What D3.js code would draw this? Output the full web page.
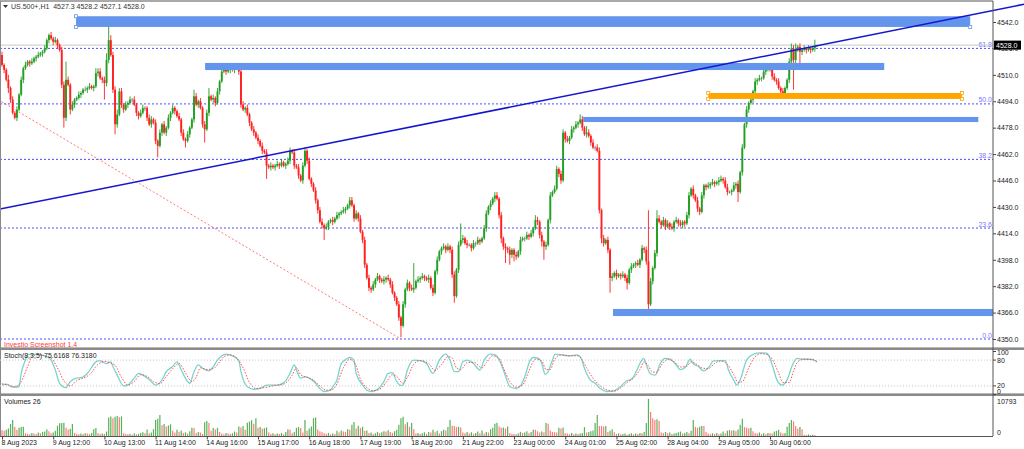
<!DOCTYPE html>
<html>
<head>
<meta charset="utf-8">
<title>US.500+ H1</title>
<script src="https://d3js.org/d3.v7.min.js"></script>
<style>
  body { margin: 0; background: #fff; }
  text { font-family: "Liberation Sans", Arial, sans-serif; font-size: 7px; fill: #222; }
</style>
</head>
<body>
<script>
// hourly bars, 8 Aug 2023 11:00 -> 31 Aug 2023; each bar opens where the previous one closed
var firstOpen = 4522;
var closes = [
  4516,4513,4507,4502,4495,4487,4484,4489,4498,4507,
  4514,4516,4518,4517,4518,4520,4521,4522,4523,4524,
  4526,4531,4534,4532,4530,4531,4528,4525,4504,4484,
  4507,4504,4489,4492,4495,4496,4498,4499,4501,4501,
  4502,4503,4502,4503,4511,4512,4508,4507,4505,4519,
  4531,4522,4501,4480,4486,4500,4492,4489,4492,4493,
  4495,4495,4492,4487,4485,4487,4490,4490,4484,4480,
  4483,4481,4470,4467,4475,4480,4475,4478,4484,4487,
  4490,4488,4485,4483,4475,4471,4470,4474,4478,4483,
  4497,4492,4494,4490,4480,4477,4487,4497,4495,4496,
  4493,4500,4506,4512,4513,4512,4513,4514,4513,4515,
  4514,4512,4492,4489,4490,4486,4481,4477,4475,4472,
  4470,4467,4464,4463,4455,4454,4455,4454,4455,4456,
  4455,4457,4455,4456,4458,4464,4463,4455,4454,4449,
  4446,4455,4464,4458,4447,4444,4440,4434,4428,4421,
  4419,4417,4418,4421,4422,4421,4423,4425,4426,4427,
  4428,4429,4431,4434,4431,4423,4426,4423,4415,4410,
  4395,4387,4381,4380,4383,4386,4388,4386,4385,4386,
  4387,4386,4383,4378,4375,4371,4363,4358,4371,4380,
  4384,4381,4380,4381,4385,4386,4387,4388,4387,4386,
  4387,4381,4378,4391,4398,4403,4405,4406,4404,4406,
  4404,4389,4376,4392,4407,4410,4411,4408,4407,4407,
  4405,4408,4408,4410,4409,4411,4417,4426,4430,4432,
  4435,4437,4435,4425,4411,4406,4405,4404,4401,4404,
  4401,4400,4403,4410,4411,4411,4413,4412,4414,4417,
  4422,4421,4413,4409,4406,4407,4422,4437,4439,4441,
  4453,4450,4446,4475,4471,4470,4472,4477,4478,4480,
  4481,4483,4478,4474,4475,4473,4469,4466,4466,4464,
  4428,4411,4408,4410,4404,4387,4388,4390,4388,4389,
  4388,4389,4387,4384,4392,4394,4395,4396,4395,4398,
  4405,4404,4397,4371,4385,4393,4402,4423,4421,4419,
  4422,4418,4420,4418,4417,4421,4422,4420,4419,4421,
  4420,4425,4437,4441,4437,4434,4429,4427,4437,4443,
  4442,4443,4444,4445,4444,4445,4446,4447,4446,4442,
  4439,4439,4440,4443,4444,4439,4451,4466,4480,4489,
  4493,4495,4500,4506,4507,4508,4508,4512,4513,4514,
  4513,4509,4507,4506,4502,4500,4498,4502,4507,4518,
  4526,4519,4525,4527,4524,4525,4526,4525,4526,4525,
  4526,4527.3,4528.0
];
// wick lengths above / below the body, in index points
var wickUp = [
  2,1,1,3,1,2,1,2,1,2, 1,2,1,1,2,1,1,2,1,1, 2,1,1,2,1,2,1,1,2,2, 11,2,1,2,1,1,2,1,1,2,
  1,2,1,1,3,2,2,1,2,4, 14,3,2,2,3,2,2,1,2,1, 2,1,2,1,1,2,2,1,1,2, 2,1,2,1,2,1,2,1,2,1,
  2,1,1,2,1,2,1,2,1,1, 4,2,1,2,1,2,2,5,1,2, 1,2,1,1,2,1,2,3,2,1, 2,1,3,2,1,2,1,1,2,1,
  2,1,2,1,2,1,2,1,1,2, 1,2,1,1,2,2,1,2,1,2, 1,2,2,1,2,1,1,2,1,2, 2,1,2,1,1,2,1,2,1,1,
  2,1,1,2,2,1,2,1,2,1, 2,1,2,1,2,1,2,1,1,2, 1,2,1,2,1,1,2,1,2,1, 2,1,2,15,1,2,1,2,1,1,
  2,1,2,1,2,1,1,2,1,2, 1,2,2,1,2,10,2,1,2,1, 1,2,1,2,1,1,2,2,1,2, 1,2,2,1,2,1,2,1,2,1,
  1,2,1,2,1,1,2,1,2,1, 3,2,1,2,1,2,1,2,1,2, 2,1,2,2,1,2,1,2,1,2, 1,3,2,1,4,2,1,2,1,2,
  2,1,2,1,2,1,2,1,2,1, 1,2,1,2,1,2,1,1,2,1, 2,1,2,31,2,1,2,5,2,1, 2,1,2,1,2,1,2,1,2,1,
  1,2,2,1,2,1,2,1,2,1, 1,2,1,2,1,1,2,2,1,2, 2,1,1,2,1,2,1,2,1,2, 1,2,1,2,1,2,1,1,2,1,
  2,1,2,1,2,1,2,1,1,2, 3,2,4,1,2,1,2,1,2,1, 1,4,0.2
];
var wickDn = [
  1,2,1,3,2,1,1,2,1,1, 2,1,1,2,1,1,2,1,1,2, 1,1,2,1,2,1,2,1,2,6, 2,1,3,1,2,1,1,2,1,1,
  2,1,1,2,1,2,1,2,10,2, 2,1,2,6,2,1,2,2,1,2, 1,2,1,2,2,1,1,2,2,1, 2,1,2,7,1,2,1,2,1,2,
  1,2,1,1,2,1,4,1,2,1, 2,1,2,1,2,8,1,2,1,2, 2,1,2,1,1,2,1,2,1,2, 1,2,2,1,2,1,2,1,2,1,
  2,1,2,1,8,1,2,1,2,1, 2,1,1,2,1,2,1,2,1,2, 1,2,1,2,1,2,1,2,2,1, 2,7,1,2,1,2,1,1,2,1,
  1,2,1,2,1,2,1,2,1,2, 2,1,2,2,1,2,1,2,1,2, 2,1,2,1,2,1,2,7,1,2, 1,2,1,2,1,1,2,1,2,1,
  2,1,2,1,2,1,2,1,2,1, 2,2,4,1,2,1,2,1,2,1, 2,1,2,1,2,1,1,2,1,2, 1,2,1,2,3,2,9,2,6,2,
  4,2,1,2,1,2,1,2,1,2, 1,2,2,3,8,2,1,2,1,1, 1,2,2,1,2,1,2,1,2,1, 2,1,2,1,2,1,2,1,2,1,
  2,3,2,1,2,9,2,1,2,1, 2,1,2,4,1,2,1,2,1,2, 1,2,2,5,1,2,1,2,1,2, 1,2,1,2,1,2,1,2,1,2,
  2,1,2,1,2,1,2,2,1,2, 2,1,2,1,2,1,2,1,2,1, 2,1,2,1,2,6,1,2,1,2, 2,1,2,1,2,1,2,1,2,1,
  1,2,1,2,1,2,1,2,1,2, 1,18,2,1,9,2,1,2,1,2, 1,2,0.2
];
var volumes = [
  1700,1500,1800,2200,3500,4700,2600,1800,2400,2600, 2700,800,600,500,900,700,600,1000,800,1200,
  1300,2000,1400,800,1000,1500,3000,3700,3800,3900, 2400,1900,2100,3500,900,600,500,700,600,800,
  700,600,900,2000,2300,900,600,700,600,1300, 5400,5700,5200,5600,5800,5500,5700,800,600,500,
  600,400,800,500,600,900,1100,800,1900,800, 1000,2000,4700,5000,6100,3100,3500,2800,3100,3400,
  1500,1000,1800,1200,1600,900,1100,700,1400,2400, 2300,900,1200,1000,600,4000,4400,3800,1500,2300,
  1900,2400,1200,700,500,900,700,600,800,1300, 1000,2800,2500,2900,1800,3900,4200,4600,3600,5200,
  2400,2600,2100,2300,2500,1000,600,800,500,700, 600,900,500,1200,2000,1800,800,1200,2400,2600,
  2300,1000,4700,1500,2200,2800,5200,5400,1900,1400, 1100,800,600,900,500,700,600,1500,1000,1600,
  1300,1200,2000,1800,3300,4100,2200,3000,2300,2700, 1500,1600,900,1000,600,800,1200,900,1100,1400,
  1300,1700,1200,900,1400,1800,3300,5200,5600,3400, 4000,2700,3800,2000,700,900,600,800,1100,600,
  1200,1000,1800,1100,1500,700,1400,1800,1600,2600, 4700,3000,2900,2600,2700,2500,1000,800,1200,700,
  1100,600,900,1300,800,1600,700,1200,1000,2000, 2400,3600,3900,2800,2400,2500,2200,2800,900,600,
  600,500,700,1200,900,1000,1400,800,1200,1800, 1800,1400,1000,1300,1100,3800,3600,1600,1200,1100,
  1000,2400,2200,2500,800,700,600,900,500,700, 600,700,900,2600,1000,1200,1400,1600,3800,6100,
  2900,2900,2800,2900,1200,1500,2000,1100,600,800, 500,600,700,400,600,800,500,700,600,900,
  800,1200,3800,10793,7000,5200,4700,4900,4400,1000, 900,1200,800,1000,600,700,900,1100,1300,700,
  900,1200,800,1500,4700,2600,2400,2700,2900,2900, 1200,700,500,800,600,900,500,700,1300,800,
  1500,1700,1600,1700,1400,1900,3300,5000,2600,2400, 2200,2400,1400,900,700,1000,600,800,500,900,
  800,700,1300,1500,1800,1000,700,900,2700,3800, 4700,4300,2900,2200,2600,2000,400,300,500,300,
  400,300,26
];
// Stoch(8,3,5) main and signal, read as [bar, value]
var stochK = [
  [0,22],[2,24],[5,17],[8,18],[9,49],[11,80],[12,92],[15,94],[18,92],[21,88],[23,80],[25,57],[27,26],[30,16],
  [32,30],[35,38],[37,39],[40,49],[44,76],[46,79],[47,76],[49,72],[51,76],[52,65],[54,45],[57,20],[59,22],
  [62,38],[64,49],[66,45],[69,35],[72,22],[75,34],[77,53],[80,65],[82,76],[84,57],[87,30],[88,26],[90,53],
  [92,69],[94,61],[97,55],[99,65],[101,80],[103,90],[105,94],[108,90],[111,79],[112,53],[115,18],[118,12],
  [121,14],[124,22],[129,22],[132,27],[135,49],[137,69],[138,57],[140,38],[142,41],[144,38],[147,26],[149,14],
  [151,7],[154,10],[155,18],[157,34],[159,72],[162,84],[163,86],[165,80],[166,49],[169,22],[171,10],[173,7],
  [176,12],[179,30],[181,49],[183,51],[185,30],[187,21],[188,22],[190,57],[193,80],[196,79],[199,72],[202,49],
  [205,80],[208,94],[210,80],[212,53],[214,53],[216,76],[218,80],[221,72],[224,57],[226,80],[229,94],[231,92],
  [233.5,76],[235,57],[236.6,34],[238,18],[241,14],[243,20],[245,41],[247.6,80],[249,86],[251.5,84],[253,72],
  [254.6,47],[256,53],[257.7,76],[259.3,94],[262.4,92],[266.3,90],[269.4,92],[271,88],[273.3,57],[275.7,34],
  [278,26],[280.4,14],[283.5,7],[286.6,8],[289.8,18],[292.9,32],[294.4,34],[296,41],[297.6,57],[299,72],
  [300.7,84],[302.3,65],[303.8,49],[306.2,45],[308.5,72],[310.8,84],[313.2,82],[315.5,72],[317.9,58],[320.2,63],
  [322.6,82],[324,72],[326.5,65],[328.8,55],[331.2,63],[333.5,78],[336.6,79],[339,79],[340.5,57],[342.9,34],
  [344.4,22],[346,34],[349,80],[352.3,94],[355.4,97],[358.5,96],[360.8,72],[363.2,34],[365.5,22],[368,34],
  [370.2,65],[372.6,84],[375.7,82],[378.8,82],[381,79],[382,75.6168]
];
var stochD = [
  [0,25],[3,22],[6,18],[9,30],[12,65],[14,88],[17,93],[20,90],[23,85],[26,62],[29,32],[32,20],[35,32],[38,38],
  [41,46],[45,70],[48,77],[51,73],[53,68],[56,40],[59,22],[62,30],[65,46],[68,42],[71,30],[74,25],[77,42],
  [80,60],[83,72],[86,50],[89,30],[91,40],[93,62],[96,58],[99,60],[102,76],[104,88],[107,92],[110,85],[113,62],
  [116,28],[119,14],[123,16],[128,21],[132,24],[136,45],[138,62],[140,46],[143,40],[146,33],[149,20],[152,10],
  [155,12],[157,25],[160,62],[163,82],[166,66],[168,36],[171,16],[174,9],[177,12],[180,28],[183,46],[185,42],
  [188,26],[190,40],[193,70],[196,79],[200,72],[203,56],[206,70],[209,88],[211,85],[213,62],[215,58],[218,74],
  [221,75],[225,62],[227,74],[230,90],[233,84],[235,62],[238,30],[241,17],[244,22],[247,55],[250,82],[253,78],
  [255,58],[257,58],[259,82],[262,92],[266,90],[270,90],[272,80],[274,62],[277,38],[280,22],[284,10],[287,8],
  [290,15],[293,28],[296,38],[299,58],[301,76],[303,66],[305,52],[307,52],[309,68],[312,82],[315,76],[318,64],
  [321,66],[323,76],[325,72],[328,62],[331,60],[334,72],[337,78],[340,70],[343,46],[345,28],[347,30],[350,62],
  [353,88],[356,95],[359,92],[361,82],[364,50],[366,28],[369,28],[371,55],[373,76],[376,82],[380,81],[382,76.318]
];
var priceTicks = [4350,4366,4382,4398,4414,4430,4446,4462,4478,4494,4510,4526,4542];
var labelBars = [0,24,48,72,96,120,144,168,192,216,240,264,288,312,336,360];
var timeLabels = ["8 Aug 2023","9 Aug 12:00","10 Aug 13:00","11 Aug 14:00","14 Aug 16:00","15 Aug 17:00",
  "16 Aug 18:00","17 Aug 19:00","18 Aug 20:00","21 Aug 22:00","23 Aug 00:00","24 Aug 01:00",
  "25 Aug 02:00","28 Aug 04:00","29 Aug 05:00","30 Aug 06:00"];
var fibLevels = [0, 23.6, 38.2, 50.0, 61.8];
var fibRange = [4350, 4634.8];
var fibDiagonal = [[-184, 4634.8], [187, 4350]];
var trendLine = [[0, 4428.9], [400, 4532.3]];
// [first bar, last bar, top price, bottom price]
var blueZones = [[34.7, 453.8, 4545.5, 4539.0], [95.2, 413.5, 4517.2, 4512.9],
                 [272.4, 457.6, 4484.5, 4481.4], [286.4, 464.5, 4368.2, 4363.9]];
var orangeZone = [331, 450, 4499.0, 4495.4];
var lastPrice = 4528.0;

var W = 1024, H = 449, axisX = 993;
var svg = d3.select("body").append("svg").attr("width", W).attr("height", H);
svg.append("rect").attr("width", W).attr("height", H).attr("fill", "#fff");

var x = d3.scaleLinear().domain([0, 382]).range([2, 817]);
var y = d3.scaleLinear().domain([4350, 4542]).range([339, 22]);
var yS = d3.scaleLinear().domain([0, 100]).range([394.5, 351.5]);
var yV = d3.scaleLinear().domain([0, 10793]).range([436, 399]);

svg.append("clipPath").attr("id", "mainClip").append("rect").attr("x", 0).attr("y", 2).attr("width", W).attr("height", 344);
svg.append("clipPath").attr("id", "plotClip").append("rect").attr("x", 0).attr("y", 2).attr("width", axisX).attr("height", 344);
var main = svg.append("g").attr("clip-path", "url(#plotClip)");

// fibo levels
var fibPrice = function(l){ return fibRange[0] + (fibRange[1] - fibRange[0]) * l / 100; };
main.selectAll(".fib").data(fibLevels).enter().append("line")
  .attr("x1", 0).attr("x2", axisX)
  .attr("y1", function(d){ return y(fibPrice(d)); }).attr("y2", function(d){ return y(fibPrice(d)); })
  .attr("stroke", "#3a3aff").attr("stroke-dasharray", "2,2").attr("stroke-width", 0.9);
main.selectAll(".fibt").data(fibLevels).enter().append("text")
  .attr("x", axisX - 1).attr("y", function(d){ return y(fibPrice(d)) - 1.5; })
  .attr("text-anchor", "end").style("fill", "#7a7aff").text(function(d){ return d.toFixed(1); });

// bid line
main.append("line").attr("x1", 0).attr("x2", axisX).attr("y1", y(lastPrice)).attr("y2", y(lastPrice))
  .attr("stroke", "#c8c8c8").attr("stroke-width", 1);

// fibo diagonal
main.append("line")
  .attr("x1", x(fibDiagonal[0][0])).attr("y1", y(fibDiagonal[0][1]))
  .attr("x2", x(fibDiagonal[1][0])).attr("y2", y(fibDiagonal[1][1]))
  .attr("stroke", "#ff6a6a").attr("stroke-dasharray", "2,2").attr("stroke-width", 0.9);

// zones
var zoneG = svg.append("g").attr("clip-path", "url(#mainClip)");
zoneG.selectAll(".zone").data(blueZones).enter().append("rect")
  .attr("x", function(d){ return x(d[0]); }).attr("width", function(d){ return x(d[1]) - x(d[0]); })
  .attr("y", function(d){ return y(d[2]); }).attr("height", function(d){ return y(d[3]) - y(d[2]); })
  .attr("fill", "#6495ed");
zoneG.append("rect")
  .attr("x", x(orangeZone[0])).attr("width", x(orangeZone[1]) - x(orangeZone[0]))
  .attr("y", y(orangeZone[2])).attr("height", y(orangeZone[3]) - y(orangeZone[2]))
  .attr("fill", "#ffa500");
var handles = [[blueZones[0][0], blueZones[0][2], "#6495ed"], [blueZones[0][0], blueZones[0][3], "#6495ed"],
               [blueZones[0][1], blueZones[0][3], "#6495ed"],
               [orangeZone[0], orangeZone[2], "#ffa500"], [orangeZone[0], orangeZone[3], "#ffa500"],
               [orangeZone[1], orangeZone[2], "#ffa500"], [orangeZone[1], orangeZone[3], "#ffa500"]];
zoneG.selectAll(".hd").data(handles).enter().append("rect")
  .attr("x", function(d){ return x(d[0]) - 1.5; }).attr("y", function(d){ return y(d[1]) - 1.5; })
  .attr("width", 3).attr("height", 3).attr("fill", "#fff").attr("stroke", function(d){ return d[2]; }).attr("stroke-width", 0.8);

// candles
var bars = closes.map(function(c, i){
  var o = i ? closes[i - 1] : firstOpen;
  return { i: i, o: o, c: c, h: Math.max(o, c) + wickUp[i], l: Math.min(o, c) - wickDn[i] };
});
var col = function(d){ return d.c > d.o ? "#229e22" : (d.c < d.o ? "#ff2020" : "#808080"); };
var cg = main.append("g");
cg.selectAll(".wick").data(bars).enter().append("line")
  .attr("x1", function(d){ return x(d.i); }).attr("x2", function(d){ return x(d.i); })
  .attr("y1", function(d){ return y(d.h); }).attr("y2", function(d){ return y(d.l); })
  .attr("stroke", col).attr("stroke-width", 0.9);
cg.selectAll(".body").data(bars).enter().append("rect")
  .attr("x", function(d){ return x(d.i) - 0.95; }).attr("width", 1.9)
  .attr("y", function(d){ return y(Math.max(d.o, d.c)); })
  .attr("height", function(d){ return Math.max(0.8, Math.abs(y(d.o) - y(d.c))); })
  .attr("fill", col);

// trend line, extended over the whole width
var slope = (trendLine[1][1] - trendLine[0][1]) / (trendLine[1][0] - trendLine[0][0]);
var tb0 = x.invert(0), tb1 = x.invert(W);
svg.append("line").attr("clip-path", "url(#mainClip)")
  .attr("x1", 0).attr("y1", y(trendLine[0][1] + slope * (tb0 - trendLine[0][0])))
  .attr("x2", W).attr("y2", y(trendLine[0][1] + slope * (tb1 - trendLine[0][0])))
  .attr("stroke", "#1414d2").attr("stroke-width", 1.5);

// price axis
var pAxis = svg.append("g").attr("transform", "translate(" + axisX + ",0)")
  .call(d3.axisRight(y).tickValues(priceTicks).tickFormat(d3.format(".1f")).tickSize(3).tickPadding(1));
pAxis.select(".domain").remove();
pAxis.selectAll("line").attr("stroke", "#444");
pAxis.selectAll("text").style("font-size", "7px").style("fill", "#222").attr("font-family", null);
var lp = svg.append("g");
lp.append("rect").attr("x", axisX + 1).attr("y", y(lastPrice) - 4.5).attr("width", 27).attr("height", 9).attr("fill", "#000");
lp.append("text").attr("x", axisX + 3).attr("y", y(lastPrice) + 2.5).style("fill", "#fff").text(lastPrice.toFixed(1));

// header
svg.append("path").attr("d", "M3,5 L8,5 L5.5,8 Z").attr("fill", "#333");
svg.append("text").attr("x", 11).attr("y", 9).style("white-space", "pre").style("fill", "#333")
  .text("US.500+,H1  " + [closes[381], bars[382].h, bars[382].l, closes[382]].map(function(v){ return v.toFixed(1); }).join(" "));
svg.append("text").attr("x", 4).attr("y", 346.5).style("fill", "#ff3b3b").text("Investio Screenshot 1.4");

// panel separators and frame
[347, 393].forEach(function(sy){
  svg.append("rect").attr("x", 0).attr("y", sy).attr("width", W).attr("height", 3).attr("fill", "#8a8a8a");
  svg.append("line").attr("x1", 0).attr("x2", W).attr("y1", sy + 0.5).attr("y2", sy + 0.5).attr("stroke", "#b8b8b8");
});
svg.append("line").attr("x1", 0).attr("x2", axisX).attr("y1", 1).attr("y2", 1).attr("stroke", "#555");
svg.append("line").attr("x1", 0.5).attr("x2", 0.5).attr("y1", 1).attr("y2", 436).attr("stroke", "#888");
svg.append("line").attr("x1", axisX).attr("x2", axisX).attr("y1", 1).attr("y2", 436).attr("stroke", "#555");
svg.append("line").attr("x1", 0).attr("x2", axisX).attr("y1", 436.5).attr("y2", 436.5).attr("stroke", "#555");

// stochastic panel
svg.selectAll(".lvl").data([80, 20]).enter().append("line")
  .attr("x1", 0).attr("x2", axisX).attr("y1", function(d){ return yS(d); }).attr("y2", function(d){ return yS(d); })
  .attr("stroke", "#c8c8c8").attr("stroke-dasharray", "1,2");
var sLine = d3.line().x(function(d){ return x(d[0]); }).y(function(d){ return yS(d[1]); }).curve(d3.curveMonotoneX);
svg.append("path").attr("d", sLine(stochK)).attr("fill", "none").attr("stroke", "#78d4d0").attr("stroke-width", 1.3);
svg.append("path").attr("d", sLine(stochD)).attr("fill", "none").attr("stroke", "#ff3c3c").attr("stroke-width", 0.9).attr("stroke-dasharray", "1.5,1.5");
svg.append("text").attr("x", 4).attr("y", 358).text("Stoch(8,3,5) " + stochK[stochK.length - 1][1].toFixed(4) + " " + stochD[stochD.length - 1][1].toFixed(4));
var sTicks = [100, 80, 20, 0], sNudge = [3.5, 2.5, 2.5, -1];
svg.selectAll(".st").data(sTicks).enter().append("text")
  .attr("x", axisX + 4).attr("y", function(d, i){ return yS(d) + sNudge[i]; }).text(function(d){ return d; });
svg.selectAll(".stt").data(sTicks).enter().append("line")
  .attr("x1", axisX).attr("x2", axisX + 3).attr("y1", function(d){ return yS(d); }).attr("y2", function(d){ return yS(d); }).attr("stroke", "#444");

// volumes panel
svg.append("text").attr("x", 4).attr("y", 404).text("Volumes " + volumes[volumes.length - 1]);
svg.append("g").selectAll("line").data(volumes).enter().append("line")
  .attr("x1", function(d, i){ return x(i); }).attr("x2", function(d, i){ return x(i); })
  .attr("y1", yV(0)).attr("y2", function(d){ return yV(d); })
  .attr("stroke", function(d, i){ return i > 0 && d > volumes[i - 1] ? "#2e9e2e" : "#ff5a5a"; })
  .attr("stroke-width", 1.2).attr("opacity", 0.8);
svg.append("text").attr("x", axisX + 4).attr("y", yV(10793) + 4.5).text("10793");
svg.append("text").attr("x", axisX + 4).attr("y", yV(0) - 1.5).text("0");

// time axis
var tAxis = svg.append("g").attr("transform", "translate(0,436.5)")
  .call(d3.axisBottom(x).tickValues(labelBars).tickFormat(function(d, i){ return timeLabels[i]; }).tickSize(3).tickPadding(1));
tAxis.select(".domain").remove();
tAxis.selectAll("line").attr("stroke", "#444");
tAxis.selectAll("text").attr("text-anchor", "start").attr("dx", "-1").style("font-size", "7px").style("fill", "#222").attr("font-family", null);
</script>
</body>
</html>
